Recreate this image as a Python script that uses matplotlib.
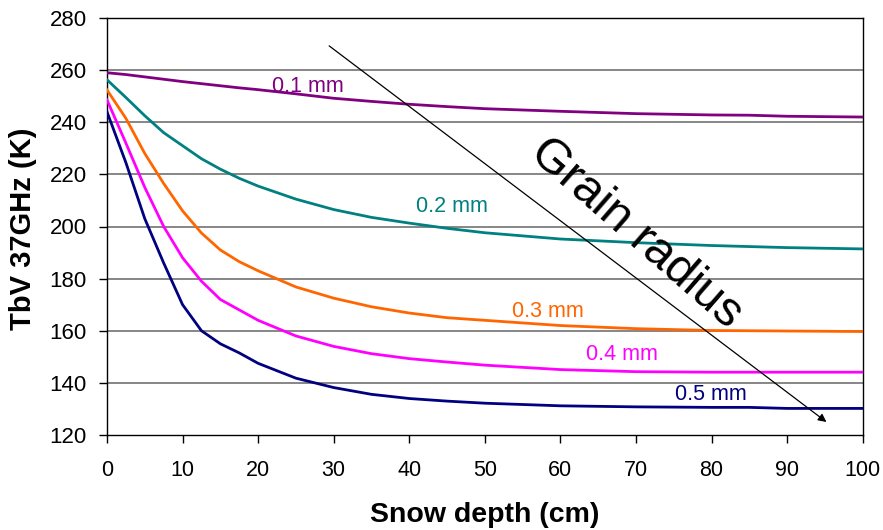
import matplotlib
matplotlib.use("Agg")
import matplotlib.pyplot as plt

plt.rcParams['font.family'] = ['Liberation Sans', 'DejaVu Sans']

depth = [0, 2.5, 5, 7.5, 10, 12.5, 15, 17.5, 20, 25, 30, 35, 40, 45, 50, 60, 70, 80, 85, 90, 100]
tb_01 = [259.0, 258.3, 257.4, 256.5, 255.6, 254.8, 254.0, 253.2, 252.5, 250.9, 249.2, 248.0, 246.9, 246.0, 245.2, 244.2, 243.3, 242.8, 242.7, 242.3, 242.0]
tb_02 = [256.3, 249.5, 242.5, 236.0, 231.0, 226.0, 222.0, 218.5, 215.5, 210.5, 206.5, 203.5, 201.3, 199.3, 197.6, 195.2, 193.8, 192.7, 192.3, 191.9, 191.4]
tb_03 = [252.4, 241.5, 228.0, 216.5, 206.0, 197.5, 191.0, 186.5, 183.0, 176.8, 172.5, 169.2, 166.8, 165.0, 164.0, 162.0, 160.8, 160.1, 160.0, 159.9, 159.7]
tb_04 = [248.6, 232.0, 215.0, 200.0, 188.0, 179.0, 172.0, 168.0, 164.0, 158.0, 154.0, 151.2, 149.3, 148.0, 146.8, 145.1, 144.3, 144.1, 144.1, 144.1, 144.1]
tb_05 = [244.0, 224.5, 203.0, 186.0, 170.0, 160.0, 155.0, 151.5, 147.5, 141.8, 138.2, 135.6, 134.0, 133.0, 132.2, 131.2, 130.8, 130.6, 130.6, 130.2, 130.2]

series_labels = ['0.1 mm', '0.2 mm', '0.3 mm', '0.4 mm', '0.5 mm']
series_colors = ['#800080', '#008080', '#FF6600', '#FF00FF', '#000080']
label_pos = [(26.6, 253.6), (45.7, 207.5), (58.3, 167.2), (68.2, 150.7), (79.9, 135.4)]

xticks = [0, 10, 20, 30, 40, 50, 60, 70, 80, 90, 100]
yticks = [120, 140, 160, 180, 200, 220, 240, 260, 280]

fig = plt.figure(figsize=(8.83, 5.30), dpi=100)
ax = fig.add_axes([107/883, 1-435/530, (862.7-107)/883, (435-18)/530])

for yv in yticks[1:-1]:
    ax.axhline(yv, color='#666666', lw=1.1, zorder=1)

for ys, c in zip([tb_01, tb_02, tb_03, tb_04, tb_05], series_colors):
    ax.plot(depth, ys, color=c, lw=2.0, zorder=3)

for (lx, ly), lab, c in zip(label_pos, series_labels, series_colors):
    ax.text(lx, ly, lab, color=c, fontsize=15.5, ha='center', va='center', zorder=4)

ax.annotate('', xy=(95.2, 125.0), xytext=(29.4, 269.3),
            arrowprops=dict(arrowstyle='-|>', color='black', lw=0.9,
                            mutation_scale=12, shrinkA=0, shrinkB=0), zorder=5)
ax.text(70.0, 197.5, 'Grain radius', fontsize=35, rotation=-41,
        rotation_mode='anchor', ha='center', va='center', color='black', zorder=5)

ax.set_xlim(0, 100)
ax.set_ylim(120, 280)
ax.set_xticks(xticks)
ax.set_yticks(yticks)
ax.tick_params(axis='x', direction='out', length=6, width=1, labelsize=15.5, pad=12)
ax.tick_params(axis='y', direction='out', length=6, width=1, labelsize=16, pad=8.5)
for sp in ax.spines.values():
    sp.set_color('black')
    sp.set_linewidth(1.0)

fig.text(485/883, 1-515.5/530, 'Snow depth (cm)', fontsize=20.5, fontweight='bold',
         ha='center', va='center')
fig.text(23/883, 1-229/530, 'TbV 37GHz (K)', fontsize=21, fontweight='bold',
         ha='center', va='center', rotation=90)

fig.savefig('out.png', dpi=100)
